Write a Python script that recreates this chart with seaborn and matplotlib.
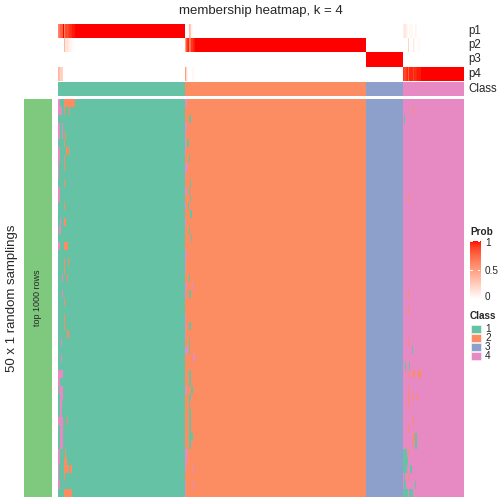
import numpy as np
import matplotlib
matplotlib.use("Agg")
import matplotlib.pyplot as plt
from matplotlib.colors import ListedColormap
from matplotlib.patches import Rectangle
import seaborn as sns

# Block sizes of the four classes (columns are samples, in display order)
CLASS_SIZES = [127, 182, 37, 61]
CLASS_LABELS = ["1", "2", "3", "4"]
CLASS_COLORS = ["#66C2A5", "#FC8D62", "#8DA0CB", "#E78AC3"]
N_SAMPLINGS = 50

# (sampling row, first column, end column, class) where a sampling disagrees
SWITCHES_BLOCK1 = [
    (0, 0, 2, 4), (0, 6, 17, 2), (1, 0, 4, 4), (1, 6, 7, 2), (1, 11, 12, 2),
    (3, 0, 2, 4), (3, 4, 5, 4), (4, 0, 2, 4), (4, 4, 5, 4), (4, 7, 8, 2),
    (5, 6, 7, 2), (6, 0, 2, 4), (6, 8, 10, 2), (6, 11, 12, 2), (7, 0, 2, 4),
    (7, 6, 7, 2), (8, 0, 1, 4), (8, 6, 7, 2), (9, 0, 1, 4), (10, 6, 7, 2),
    (11, 0, 2, 4), (12, 0, 2, 4), (13, 6, 7, 2), (15, 2, 3, 4), (15, 6, 8, 2),
    (16, 1, 3, 4), (18, 0, 2, 4), (18, 6, 10, 2), (20, 6, 7, 2), (20, 10, 11, 2),
    (21, 6, 7, 2), (22, 4, 5, 4), (22, 9, 10, 2), (24, 4, 5, 4), (25, 6, 7, 2),
    (27, 6, 7, 2), (28, 6, 7, 2), (29, 9, 11, 2), (30, 3, 4, 4), (32, 3, 4, 4),
    (34, 0, 5, 4), (35, 0, 2, 4), (36, 1, 5, 4), (37, 2, 5, 4), (38, 2, 4, 4),
    (39, 2, 4, 4), (40, 0, 5, 4), (40, 9, 10, 2), (41, 2, 5, 4), (42, 2, 5, 4),
    (43, 2, 5, 4), (44, 0, 2, 4), (44, 7, 8, 2), (45, 0, 2, 4), (45, 6, 9, 2),
    (46, 0, 1, 4), (46, 6, 11, 2), (46, 12, 14, 2), (47, 0, 1, 4), (47, 6, 7, 2),
    (48, 0, 2, 4), (49, 6, 14, 2),
]
SWITCHES_BLOCK2 = [
    (0, 127, 129, 4), (2, 131, 133, 1), (3, 127, 129, 4), (4, 127, 128, 4),
    (5, 127, 128, 4), (5, 129, 131, 1), (6, 127, 128, 4), (7, 131, 132, 1),
    (8, 127, 130, 4), (9, 127, 128, 4), (10, 132, 133, 1), (11, 127, 129, 4),
    (11, 131, 132, 1), (12, 132, 133, 1), (13, 127, 128, 4), (13, 130, 131, 1),
    (14, 132, 134, 1), (15, 127, 128, 4), (16, 131, 132, 1), (17, 133, 134, 1),
    (19, 127, 129, 4), (20, 127, 128, 4), (21, 127, 128, 4), (22, 131, 132, 1),
    (23, 127, 129, 4), (23, 134, 135, 4), (24, 127, 128, 4), (24, 131, 133, 1),
    (27, 127, 128, 4), (28, 127, 128, 4), (28, 131, 133, 1), (29, 127, 128, 4),
    (30, 131, 132, 1), (31, 127, 130, 4), (31, 131, 132, 1), (32, 135, 137, 4),
    (34, 131, 133, 1), (35, 131, 133, 1), (36, 127, 129, 4), (36, 133, 135, 1),
    (37, 131, 133, 1), (38, 131, 132, 1), (39, 131, 133, 1), (40, 131, 133, 1),
    (41, 131, 133, 1), (42, 131, 135, 1), (43, 131, 133, 1), (44, 127, 130, 4),
    (45, 127, 129, 4), (46, 127, 128, 4), (46, 134, 135, 4), (48, 127, 128, 4),
    (48, 135, 136, 4), (49, 127, 128, 4),
]
SWITCHES_BLOCK4 = [
    (1, 356, 357, 2), (2, 347, 348, 1), (12, 351, 352, 2), (24, 351, 352, 2),
    (26, 351, 352, 2), (30, 351, 352, 2), (31, 355, 356, 1), (33, 348, 349, 1),
    (33, 352, 353, 1), (34, 351, 352, 2), (34, 356, 358, 2), (34, 361, 364, 2),
    (36, 351, 352, 2), (37, 351, 352, 2), (37, 356, 357, 2), (37, 360, 361, 2),
    (38, 351, 352, 2), (40, 356, 357, 2), (41, 351, 352, 2), (42, 356, 358, 2),
    (42, 358, 360, 1), (43, 356, 357, 2), (43, 358, 360, 1), (44, 346, 350, 1),
    (44, 351, 352, 2), (45, 346, 351, 1), (46, 346, 350, 1), (46, 353, 355, 1),
    (47, 347, 348, 1), (47, 351, 352, 2), (48, 347, 349, 1), (48, 358, 359, 1),
    (49, 346, 351, 1), (49, 352, 356, 1),
]

W = H = 504


def box(x0, y0, x1, y1):
    """pixel box (top-left origin) -> figure fraction rect"""
    return [x0 / W, 1 - y1 / H, (x1 - x0) / W, (y1 - y0) / H]


def _lab(rgb):
    rgb = np.asarray(rgb, float)
    lin = np.where(rgb <= 0.04045, rgb / 12.92, ((rgb + 0.055) / 1.055) ** 2.4)
    xyz = XYZ_M @ lin / WHITE
    f = np.where(xyz > 0.008856, np.cbrt(xyz), 7.787 * xyz + 16 / 116)
    return np.array([116 * f[1] - 16, 500 * (f[0] - f[1]), 200 * (f[1] - f[2])])


def _rgb(lab):
    fy = (lab[0] + 16) / 116
    f = np.array([fy + lab[1] / 500, fy, fy - lab[2] / 200])
    xyz = np.where(f ** 3 > 0.008856, f ** 3, (f - 16 / 116) / 7.787) * WHITE
    lin = np.linalg.solve(XYZ_M, xyz)
    rgb = np.where(lin <= 0.0031308, 12.92 * lin, 1.055 * np.abs(lin) ** (1 / 2.4) - 0.055)
    return np.clip(rgb, 0, 1)


XYZ_M = np.array([[0.4124, 0.3576, 0.1805], [0.2126, 0.7152, 0.0722], [0.0193, 0.1192, 0.9505]])
WHITE = np.array([0.95047, 1.0, 1.08883])

# white -> red ramp interpolated in LAB space
lab0, lab1 = _lab([1, 1, 1]), _lab([1, 0, 0])
prob_cmap = ListedColormap([_rgb(lab0 + t * (lab1 - lab0)) for t in np.linspace(0, 1, 256)])
class_cmap = ListedColormap(CLASS_COLORS)

# membership matrix
base = np.repeat(np.arange(1, 5), CLASS_SIZES)
membership = np.tile(base, (N_SAMPLINGS, 1))
for row, c0, c1, cl in SWITCHES_BLOCK1 + SWITCHES_BLOCK2 + SWITCHES_BLOCK4:
    membership[row, c0:c1] = cl
probs = np.vstack([(membership == k).mean(axis=0) for k in range(1, 5)])

sns.set_style("white")
plt.rcParams["font.family"] = ["Liberation Sans", "DejaVu Sans"]

fig = plt.figure(figsize=(7, 7), dpi=72)

# probability annotation
ax_p = fig.add_axes(box(58, 24, 464, 81))
sns.heatmap(probs, cmap=prob_cmap, vmin=0, vmax=1, cbar=False,
            xticklabels=False, yticklabels=False, ax=ax_p)

# class annotation
ax_c = fig.add_axes(box(58, 82, 464, 96))
sns.heatmap(base[None, :], cmap=class_cmap, vmin=0.5, vmax=4.5, cbar=False,
            xticklabels=False, yticklabels=False, ax=ax_c)

# main membership body
ax_m = fig.add_axes(box(58, 99, 464, 497))
sns.heatmap(membership, cmap=class_cmap, vmin=0.5, vmax=4.5, cbar=False,
            xticklabels=False, yticklabels=False, ax=ax_m)

# left split bar
ax_l = fig.add_axes(box(24, 99, 52, 497))
sns.heatmap(np.ones((N_SAMPLINGS, 1)), cmap=ListedColormap(["#7FC97F"]), cbar=False,
            xticklabels=False, yticklabels=False, ax=ax_l)
ax_l.text(0.5, N_SAMPLINGS / 2, "top 1000 rows", rotation=90, fontsize=9,
          ha="center", va="center")

fig.text(261 / W, 1 - 11 / H, "membership heatmap, k = 4", fontsize=13.2,
         ha="center", va="center")
fig.text(12 / W, 1 - 298 / H, "50 x 1 random samplings", fontsize=13.2,
         rotation=90, ha="center", va="center")

for name, yc in zip(["p1", "p2", "p3", "p4", "Class"], [31, 45, 59, 73.5, 89]):
    fig.text(468 / W, 1 - yc / H, name, fontsize=11.5, ha="left", va="center")

# Prob legend
fig.text(470 / W, 1 - 232 / H, "Prob", fontsize=10, fontweight="bold", va="center")
ax_g = fig.add_axes(box(470, 241, 480, 299))
ax_g.imshow(np.linspace(0, 1, 256)[:, None], cmap=prob_cmap, aspect="auto",
            origin="lower", extent=[0, 1, 0, 1])
for v in [0.5, 1.0]:
    ax_g.plot([0, 0.22], [v, v], color="white", lw=1)
    ax_g.plot([0.78, 1], [v, v], color="white", lw=1)
ax_g.set_xlim(0, 1)
ax_g.set_ylim(0, 1)
ax_g.axis("off")
for lab, yc in zip(["1", "0.5", "0"], [243, 271, 297]):
    fig.text(485 / W, 1 - yc / H, lab, fontsize=10, va="center")

# Class legend
fig.text(470 / W, 1 - 316 / H, "Class", fontsize=10, fontweight="bold", va="center")
for i, (lab, col) in enumerate(zip(CLASS_LABELS, CLASS_COLORS)):
    y0 = 324.5 + i * 9
    fig.add_artist(Rectangle((471 / W, 1 - (y0 + 8.5) / H), 10 / W, 8.5 / H,
                             transform=fig.transFigure, facecolor=col, edgecolor="white", lw=0.5))
    fig.text(485 / W, 1 - (y0 + 4.5) / H, lab, fontsize=10, va="center")

fig.savefig("out.png", dpi=72)
